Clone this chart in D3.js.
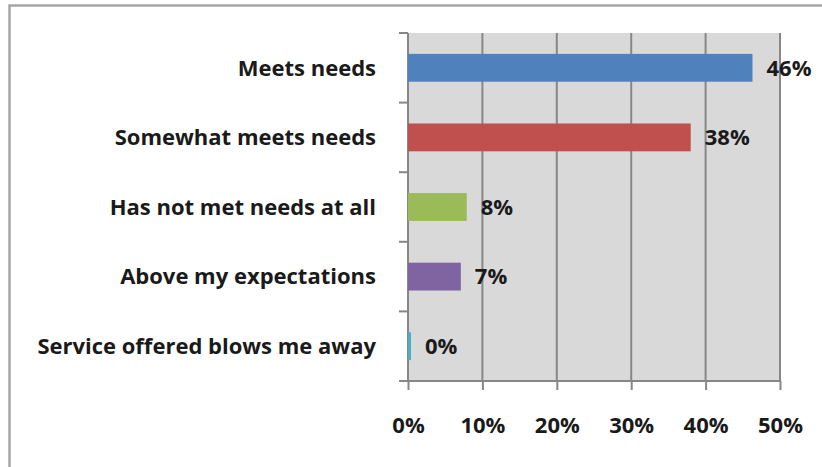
<!DOCTYPE html>
<html>
<head>
<meta charset="utf-8">
<script src="https://cdn.jsdelivr.net/npm/d3@7"></script>
<style>
  html, body { margin: 0; padding: 0; background: #fff; }
  svg { display: block; }
  text { font-family: "Open Sans", Lato, sans-serif; font-weight: bold; fill: #1a1a1a; }
</style>
</head>
<body>
<svg id="chart" width="822" height="467"></svg>
<script>
const categories = ["Meets needs", "Somewhat meets needs", "Has not met needs at all", "Above my expectations", "Service offered blows me away"];
const values = [46.3, 38.0, 7.9, 7.1, 0.4];
const valueLabels = ["46%", "38%", "8%", "7%", "0%"];
const barColors = ["#4F81BD", "#C0504D", "#9BBB59", "#8064A2", "#4BACC6"];
const xTicks = [0, 10, 20, 30, 40, 50];

const svg = d3.select("#chart");
const fontSize = 22;

// outer chart border
svg.append("rect")
  .attr("x", 9.5).attr("y", 5.5).attr("width", 900).attr("height", 600)
  .attr("fill", "none").attr("stroke", "#a6a6a6").attr("stroke-width", 2.5);

const x = d3.scaleLinear().domain([0, 50]).range([408, 780]);
const y = d3.scaleBand().domain(categories).range([33, 381]).paddingInner(0.6).paddingOuter(0.3);

// plot background
svg.append("rect")
  .attr("x", x(0)).attr("y", 33).attr("width", x(50) - x(0)).attr("height", 381 - 33)
  .attr("fill", "#D9D9D9");

// gridlines
svg.append("g").selectAll("line").data(xTicks.slice(1)).join("line")
  .attr("x1", d => x(d)).attr("x2", d => x(d))
  .attr("y1", 33).attr("y2", 381)
  .attr("stroke", "#878787").attr("stroke-width", 2);

// y axis line
svg.append("line")
  .attr("x1", x(0)).attr("x2", x(0)).attr("y1", 33).attr("y2", 381)
  .attr("stroke", "#878787").attr("stroke-width", 2);

// bars
svg.append("g").selectAll("rect").data(categories).join("rect")
  .attr("x", x(0))
  .attr("y", d => y(d))
  .attr("width", (d, i) => x(values[i]) - x(0))
  .attr("height", y.bandwidth())
  .attr("fill", (d, i) => barColors[i]);

// x axis
const xAxis = d3.axisBottom(x).tickValues(xTicks).tickSize(9).tickPadding(27)
  .tickFormat(d => d + "%");
const gx = svg.append("g").attr("transform", "translate(0,381)").call(xAxis);
gx.select(".domain").attr("stroke", "#878787").attr("stroke-width", 2)
  .attr("d", `M${x(0) - 9},0H${x(50)}`);
gx.selectAll(".tick line").attr("stroke", "#878787").attr("stroke-width", 2);
gx.selectAll(".tick text").attr("font-size", fontSize).attr("font-family", null).attr("fill", "#1a1a1a");

// y axis: boundaries between categories
const bounds = categories.map(c => y(c) - y.step() * y.paddingInner() / 2);
bounds.push(381);
svg.append("g").selectAll("line").data(bounds).join("line")
  .attr("x1", x(0) - 9).attr("x2", x(0))
  .attr("y1", d => d).attr("y2", d => d)
  .attr("stroke", "#878787").attr("stroke-width", 2);

// category labels
svg.append("g").selectAll("text").data(categories).join("text")
  .attr("x", 376)
  .attr("y", d => y(d) + y.bandwidth() / 2)
  .attr("dy", "0.35em")
  .attr("text-anchor", "end")
  .attr("font-size", fontSize)
  .text(d => d);

// value labels
svg.append("g").selectAll("text").data(categories).join("text")
  .attr("x", (d, i) => x(values[i]) + 14)
  .attr("y", d => y(d) + y.bandwidth() / 2)
  .attr("dy", "0.35em")
  .attr("font-size", fontSize)
  .text((d, i) => valueLabels[i]);
</script>
</body>
</html>
